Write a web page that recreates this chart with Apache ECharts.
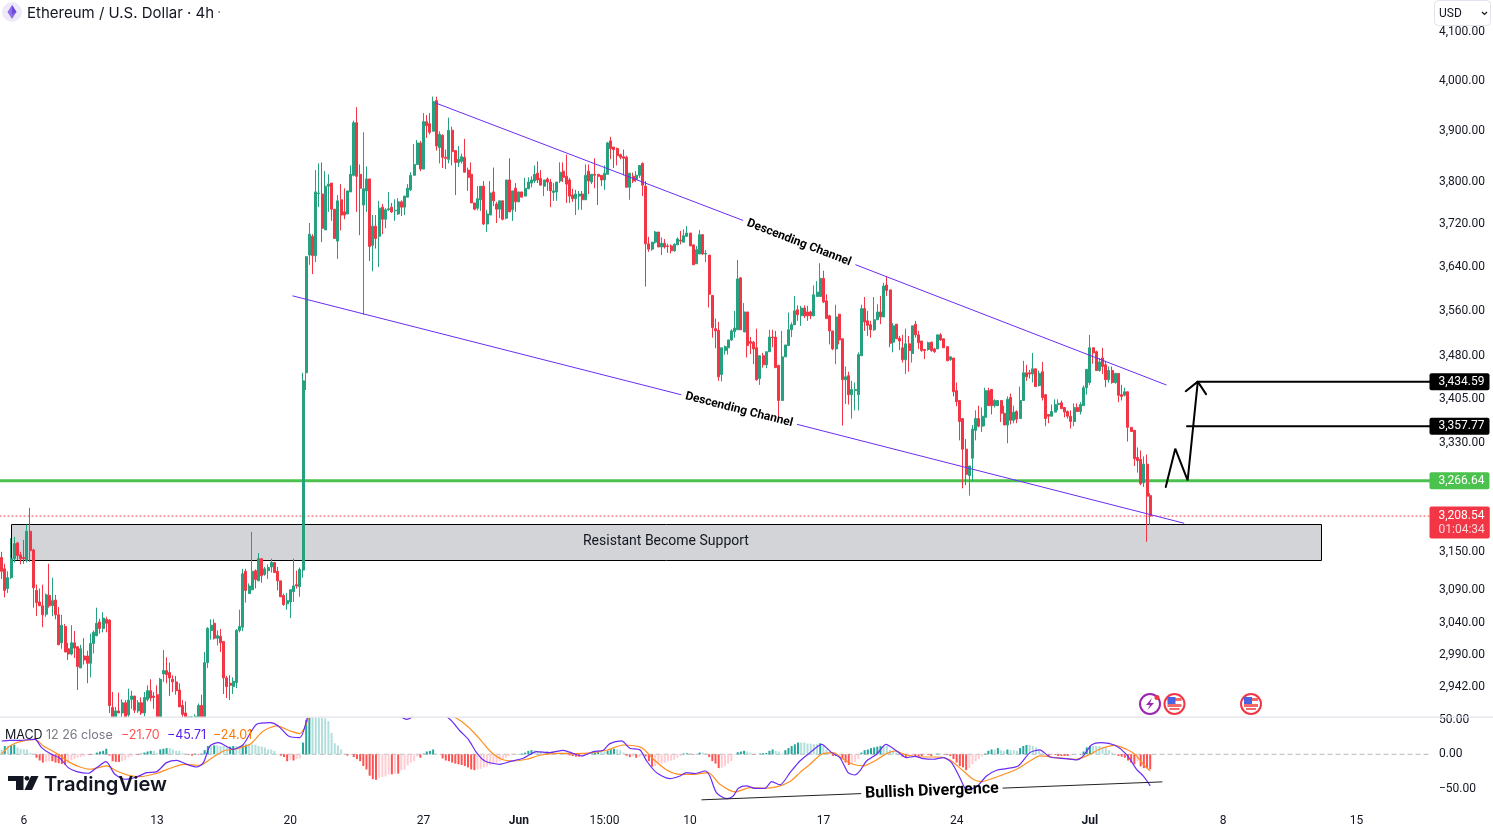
<!DOCTYPE html>
<html><head><meta charset="utf-8">
<style>html,body{margin:0;padding:0;background:#fff;overflow:hidden}#c{width:1493px;height:829px}</style>
<script src="https://cdn.jsdelivr.net/npm/echarts@6/dist/echarts.min.js"></script>
</head><body><div id="c"></div>
<script>
// open, close, low, high for each 4h bar, starting May 4 20:00
const ohlc = [
[3142,3120,3108,3151],[3124,3090,3079,3132],[3093,3110,3086,3120],[3110,3140,3108,3173],[3140,3164,3134,3175],[3165,3145,3138,3167],[3146,3140,3131,3151],[3142,3140,3132,3170],[3137,3184,3134,3195],[3184,3153,3135,3222],
[3154,3094,3063,3156],[3090,3071,3050,3099],[3072,3066,3066,3093],[3066,3052,3033,3099],[3053,3083,3049,3085],[3082,3066,3063,3132],[3066,3074,3050,3110],[3075,3052,3045,3083],[3052,3006,3006,3064],[3009,3036,3000,3052],
[3034,2995,2995,3038],[3000,2992,2983,3009],[2992,3009,2990,3036],[3009,3001,2986,3027],[3003,2973,2938,3004],[2971,3000,2971,3006],[2989,2983,2976,3016],[2989,2978,2948,2997],[2978,3008,2957,3023],[3008,3025,2993,3028],
[3020,3039,3019,3063],[3041,3031,3023,3046],[3031,3047,3025,3056],[3045,3039,3025,3049],[3044,2915,2904,3045],[2912,2890,2880,2935],[2889,2907,2885,2913],[2907,2904,2904,2934],[2904,2919,2890,2924],[2919,2897,2885,2923],
[2901,2923,2893,2940],[2924,2929,2910,2937],[2929,2908,2904,2929],[2907,2919,2904,2923],[2919,2904,2901,2927],[2904,2927,2899,2935],[2924,2937,2921,2945],[2937,2926,2921,2954],[2929,2927,2910,2935],[2931,2880,2875,2945],
[2880,2954,2875,2956],[2962,2967,2950,2998],[2967,2961,2948,2987],[2964,2956,2929,2979],[2954,2950,2935,2960],[2950,2937,2931,2959],[2938,2913,2913,2948],[2915,2902,2894,2923],[2904,2885,2880,2921],[2895,2892,2885,2897],
[2888,2875,2870,2892],[2891,2899,2885,2902],[2897,2915,2891,2918],[2915,2894,2891,2931],[2885,2979,2880,2995],[2979,3031,2971,3033],[3028,3036,3014,3045],[3039,3016,3014,3045],[3016,3020,3005,3028],[3019,3009,2995,3030],
[3011,2956,2932,3011],[2956,2943,2926,2959],[2948,2945,2923,2960],[2943,2951,2932,2957],[2949,3028,2941,3030],[3028,3034,3025,3060],[3033,3116,3027,3124],[3120,3090,3071,3124],[3085,3097,3085,3101],[3091,3120,3090,3183],
[3121,3107,3093,3123],[3105,3140,3105,3149],[3140,3113,3102,3140],[3115,3124,3113,3127],[3121,3126,3108,3131],[3127,3134,3118,3140],[3134,3118,3118,3134],[3120,3105,3090,3127],[3105,3080,3080,3105],[3082,3068,3066,3085],
[3069,3074,3060,3086],[3072,3091,3047,3091],[3088,3097,3072,3140],[3099,3097,3093,3121],[3096,3123,3080,3126],[3122,3436,3110,3450],[3450,3659,3420,3660],
[3662,3701,3644,3722],[3697,3661,3627,3701],[3661,3781,3649,3823],[3778,3779,3752,3836],[3777,3712,3686,3838],[3709,3792,3709,3821],[3792,3796,3743,3815],[3798,3748,3726,3798],[3748,3693,3693,3748],[3688,3764,3655,3775],
[3766,3737,3708,3796],[3743,3737,3729,3788],[3739,3783,3739,3783],[3781,3815,3781,3832],[3813,3916,3811,3920],[3916,3811,3743,3947],[3815,3788,3699,3834],[3756,3787,3553,3897],[3783,3806,3743,3830],[3806,3678,3651,3806],
[3680,3716,3632,3737],[3716,3693,3674,3737],[3697,3750,3640,3764],[3752,3729,3701,3758],[3729,3747,3712,3750],[3747,3749,3745,3781],[3752,3743,3741,3760],[3745,3746,3726,3767],[3739,3762,3737,3769],[3762,3752,3735,3765],
[3752,3773,3737,3773],[3771,3788,3771,3796],[3785,3813,3783,3819],[3813,3834,3813,3874],[3834,3876,3834,3882],[3876,3825,3821,3880],[3825,3918,3825,3935],[3918,3910,3886,3931],[3914,3897,3893,3935],[3899,3958,3899,3968],
[3960,3870,3861,3968],[3867,3893,3836,3899],[3891,3848,3827,3893],[3848,3846,3825,3863],[3844,3901,3836,3926],[3901,3859,3832,3908],[3861,3838,3775,3861],[3838,3844,3829,3870],[3840,3849,3836,3855],[3848,3819,3819,3884],
[3823,3809,3783,3828],[3815,3760,3760,3838],[3760,3748,3746,3760],[3750,3768,3746,3792],[3766,3792,3745,3792],[3792,3720,3718,3802],[3720,3739,3705,3747],[3737,3779,3737,3802],[3781,3764,3754,3828],[3758,3748,3722,3762],
[3748,3764,3731,3764],[3764,3729,3727,3764],[3731,3804,3729,3804],[3804,3743,3743,3846],[3747,3783,3726,3783],[3788,3762,3743,3798],[3762,3781,3762,3781],[3781,3771,3771,3781],[3773,3788,3773,3808],[3787,3800,3787,3809],
[3798,3804,3790,3811],[3802,3815,3798,3832],[3817,3804,3798,3840],[3807,3794,3794,3823],[3792,3804,3773,3804],[3806,3800,3783,3809],[3800,3783,3752,3806],[3780,3783,3764,3798],[3781,3800,3764,3800],[3802,3819,3798,3838],
[3821,3809,3800,3838],[3811,3796,3760,3853],[3804,3773,3760,3808],[3775,3768,3762,3787],[3768,3777,3737,3785],[3773,3777,3747,3783],[3777,3766,3747,3783],[3766,3813,3766,3834],[3821,3802,3777,3834],[3800,3815,3796,3815],
[3815,3813,3788,3846],[3815,3811,3756,3815],[3813,3804,3792,3813],[3804,3817,3785,3832],[3815,3876,3815,3878],[3880,3865,3844,3888],[3868,3863,3827,3868],[3865,3851,3832,3867],[3853,3848,3844,3855],[3849,3846,3813,3863],
[3848,3790,3790,3851],[3790,3817,3766,3817],
[3811,3802,3798,3818],[3805,3813,3800,3821],[3813,3832,3808,3832],[3836,3794,3773,3838],[3792,3683,3604,3802],[3683,3673,3668,3696],[3673,3686,3670,3686],[3686,3705,3683,3707],[3705,3677,3677,3705],[3677,3684,3662,3695],
[3684,3677,3674,3692],[3679,3678,3666,3683],[3679,3670,3665,3682],[3670,3682,3668,3684],[3681,3692,3681,3695],[3690,3688,3682,3707],[3686,3698,3686,3710],[3697,3703,3696,3716],[3703,3679,3679,3703],[3681,3644,3644,3681],
[3646,3672,3646,3679],[3664,3700,3664,3709],[3700,3664,3662,3701],[3664,3665,3649,3671],[3662,3590,3566,3662],[3588,3530,3512,3588],[3528,3524,3493,3546],[3525,3443,3436,3540],[3447,3494,3435,3494],[3489,3496,3482,3498],
[3494,3508,3482,3508],[3508,3524,3506,3527],[3523,3529,3512,3560],[3526,3618,3526,3653],[3620,3526,3526,3621],[3522,3558,3522,3574],[3558,3498,3477,3558],[3505,3502,3483,3513],[3504,3492,3465,3506],[3494,3438,3436,3528],
[3440,3480,3429,3480],[3480,3464,3459,3485],[3464,3487,3458,3487],[3487,3513,3487,3526],[3513,3512,3495,3526],[3513,3459,3459,3524],[3463,3402,3368,3464],[3402,3478,3402,3524],[3478,3499,3478,3499],[3498,3526,3498,3557],
[3526,3535,3513,3539],[3535,3560,3535,3587],[3562,3553,3542,3570],[3551,3565,3533,3569],[3565,3551,3547,3570],[3558,3551,3542,3569],[3558,3551,3545,3560],[3551,3589,3551,3606],[3586,3594,3586,3614],[3586,3619,3586,3647],
[3619,3576,3574,3633],[3578,3546,3546,3590],[3551,3524,3500,3553],[3524,3492,3490,3524],[3492,3549,3465,3571],[3554,3508,3500,3554],[3510,3438,3359,3510],[3438,3443,3396,3461],[3445,3412,3395,3452],[3412,3421,3371,3436],
[3419,3421,3385,3433],[3412,3482,3385,3486],[3480,3564,3480,3571],[3564,3540,3524,3585],[3542,3534,3515,3560],[3535,3526,3512,3542],[3526,3544,3524,3585],[3544,3558,3544,3572],[3558,3549,3536,3587],[3549,3605,3549,3611],
[3607,3597,3587,3623],[3598,3502,3495,3598],[3504,3533,3486,3538],[3536,3510,3510,3536],[3511,3506,3490,3515],[3494,3473,3468,3517],[3473,3501,3448,3528],[3501,3489,3452,3515],[3484,3533,3468,3533],[3536,3517,3512,3542],
[3517,3503,3492,3524],[3506,3489,3487,3506],[3491,3489,3474,3491],[3491,3503,3489,3505],[3504,3489,3487,3505],[3492,3487,3485,3494],[3492,3517,3492,3517],[3517,3508,3506,3520],[3510,3494,3494,3510],[3496,3471,3471,3496],
[3473,3478,3471,3479],[3476,3417,3409,3476],[3419,3400,3392,3433],[3402,3366,3334,3402],[3371,3319,3254,3371],[3319,3277,3259,3336],[3275,3291,3242,3291],[3304,3353,3266,3360],[3351,3371,3334,3385],[3371,3358,3356,3393],
[3358,3375,3348,3390],[3373,3419,3358,3424],[3419,3393,3393,3424],[3421,3393,3378,3422],[3393,3402,3390,3404],[3393,3402,3393,3402],[3402,3380,3365,3402],[3380,3360,3360,3393],[3360,3404,3329,3409],[3407,3368,3361,3414],
[3368,3382,3363,3393],[3383,3370,3363,3385],[3371,3402,3371,3426],[3402,3450,3402,3471],[3450,3443,3436,3464],[3450,3448,3440,3455],[3448,3457,3433,3485],[3457,3426,3426,3457],[3428,3449,3426,3454],[3452,3407,3402,3469],
[3412,3371,3358,3412],[3378,3375,3363,3378],[3375,3383,3375,3395],[3382,3395,3382,3404],[3395,3397,3385,3404],[3398,3388,3387,3402],[3390,3382,3373,3390],[3383,3375,3371,3385],[3375,3366,3354,3385],[3366,3390,3358,3397],
[3390,3383,3382,3397],[3383,3395,3378,3399],[3393,3424,3393,3428],[3424,3456,3412,3456],[3433,3494,3429,3517],[3494,3485,3466,3494],[3487,3454,3454,3489],[3454,3469,3452,3476],[3476,3461,3448,3494],[3464,3438,3425,3471],
[3438,3454,3433,3461],[3454,3433,3431,3461],[3433,3449,3431,3450],[3449,3411,3399,3449],[3412,3409,3402,3429],[3411,3417,3409,3424],[3417,3356,3332,3417],[3356,3349,3349,3356],[3351,3303,3291,3351],[3305,3300,3280,3322],
[3302,3262,3259,3317],[3263,3294,3256,3307],[3294,3241,3167,3310],[3242,3208.54,3194,3246]
];
const histValues = [
7,12,12,13,14,10,8,7,7,2,0.5,-5,-9,-12,-11,-10,-10,-12,-13,-14,-15,-13,-9,-7,-5,-4,-3,-1,-1,0.5,2.5,4,5,8,-2,-10,-11,-11,-10,-8,-5,-3,-1,-1,1,2.5,4,5,5,2,7,8,9,9,7,5,5,2,1,-1,-2,1,-1,1,6,12,12,13,13,12,12,10,11,12,12,12,13,14,14,14,14,12,11,10,7,7,5,1,-2,-4,-10,-8,-9,-7,-6,17,50,70,70,65,60,55,52,48,31,16,13,7,0.5,-2,-1,-4,-7,-10,-17,-22,-31,-36,-37,-34,-33,-32,-29,-29,-28,-28,
-23,-22,-16,-12,-10,-3,-5,1,4,5,7,1.5,0,-6,-9,-10,-12,-13.5,-14.5,-15.5,-17,-19,-22,-23,-22,-21,-19,-17.5,-15.5,-13.5,-12.5,-10.5,-7,-5,-2.5,-0.5,0,0.5,1,2.5,5,6,6,4,4,2.5,4,2.5,2.5,1.5,1.5,1.5,-0.5,-1.5,-2.5,-3.5,-3.5,-3,-1.5,-0.5,1.5,2.5,4,4,4,5,7,8,7,6,2.5,-2,-4,-2.5,-5,-4,-1.5,-3,-10,-18,-17,-14.5,-13.5,-12,-10,-9,-8,-5,-2.5,1,1.5,1.5,-1,-0.5,2.5,2.5,1.5,-4,-10,-13.5,-20,-19,-17,-13.5,-10,-1,3,4,5,4,2.5,-0.5,0,1,1.5,2,5,7,5,4,1.5,6,9,12,14.5,17,
17,17,15.5,15.5,14.5,14.5,16,12,7,2.5,-2.5,-2.5,-0.5,-7,-12,-15.5,-12,-11,-7,2.5,6,7,9,10,11,12,12,12,6,4,2.5,0,-3.5,-5,-4,-2.5,-2.5,-2.5,-2.5,-1,-1,-2.5,0,1,1,-0.5,-1,-2.5,-7,-12,-17,-19,-23,-20,-14.5,-10,-7,-3,1,5,7,7,9,6,5,7,6,6,5,9,12,13.5,13.5,12,10,6,2.5,0,-2.5,0,-1,-2.5,-2.5,-2.5,-2.5,-1,0,0,0.5,4,10,12,12,12,12,10.5,10,6,2.5,0,-2.5,-3.5,-5,-9,-12,-14.5,-10,-17.5,-20,-20,-21.7
];
// bar index, value
const macdLine = [[0,19.3],[2.6,20.3],[5.8,20.3],[10.5,21.7],[12.6,9.7],[15.3,1],[18.4,-5.8],[21,-19.3],[23.7,-25.1],[27.3,-27.5],[30,-19.3],[32.9,-10.6],[35.7,-29],[38.9,-36.2],[42.6,-32.9],[45.7,-26.6],[48.9,-25.1],[52,-12.1],[55.2,-8.7],[57.8,-13.5],[61.5,-18.4],[63.6,-12.1],[65.7,12.1],[68.3,16.9],[73,7.2],[76.2,14.5],[80.4,43.5],[84.6,45.9],[87.2,41.1],[90.4,26.6],[94,24.2],[96.1,48.3],[98,85],[105,120],[115,105],[122,70],[127.7,50.7],[135,70],[141.3,50.7],[144.5,33.8],[147.1,21.7],[149.7,2.4],[152.3,-9.7],[157.1,-14.5],[160.2,-10.6],[164.4,-5.8],[168.6,3.9],[172.8,2.4],[177,5.8],[180.2,1],[182.8,-2.4],[186.5,3.9],[189.6,5.8],[191.7,15.5],[195.4,19.3],[198,8.7],[201.2,6.3],[203.3,-9.7],[206.4,-26.6],[210.6,-35.3],[213.8,-31.4],[215.9,-26.6],[218.5,-28],[221.7,-24.2],[223.2,-31.4],[225.3,-55.6],[228.5,-64.3],[230.6,-60.4],[232.2,-49.3],[234.8,-45.9],[237.4,-49.3],[240.6,-49.3],[242.7,-39.6],[245.3,-44.4],[248.5,-26.6],[251.6,-9.7],[254.8,2.4],[258.4,14.5],[261.6,2.4],[264.2,-4.8],[266.8,-26.6],[268.9,-30],[270.5,-24.2],[272.6,-9.7],[275.8,0],[278.7,14.5],[282.1,4.8],[285.2,-4.8],[287.8,-2.9],[290.5,-6.3],[293.6,-7.2],[296.8,-4.8],[299.4,-12.1],[302,-33.8],[304.1,-50.7],[307.3,-47.3],[310.4,-31.4],[313.6,-23.2],[316.7,-20.8],[320.4,-16.9],[324.1,2.4],[327.2,6.3],[330.4,-3.9],[335.6,-6.3],[338.8,-8.2],[340.9,-2.4],[343.5,13.5],[346.7,16.9],[350.9,13],[354.5,0],[357.7,-21.7],[359.8,-31.4],[362,-45.71]];
const signalLine = [[0,1],[2.6,12.1],[5.8,18.4],[10.5,21.7],[13.2,12.1],[17.4,1],[21.6,-12.1],[24.7,-18.4],[27.9,-21.7],[33.1,-16.9],[36.3,-24.2],[40,-30.4],[43.6,-32.4],[48.9,-27.5],[53.1,-20.3],[57.3,-14.5],[62.5,-15.9],[65.7,-7.2],[69.9,4.8],[74.1,8.2],[78.3,14.5],[82.5,33.8],[86.7,41.1],[90.9,33.8],[94,30],[95.6,39.6],[96.7,52.2],[100,70],[110,90],[125,85],[135,70],[143.4,52.2],[147.1,39.6],[150.8,21.7],[153.9,4.8],[157.6,-7.2],[161.3,-9.7],[165.5,-7.2],[169.7,-1.4],[174.9,1.4],[181.2,1],[186.5,2.4],[190.7,5.8],[195.9,13.5],[201.7,9.7],[205.4,-7.2],[209.6,-22.7],[213.8,-29],[218,-29],[222.7,-26.6],[226.4,-43.5],[231.1,-54.6],[235.9,-48.3],[240.1,-49.3],[244.3,-47.3],[248.5,-39.6],[251.6,-26.6],[254.8,-14.5],[258.4,0],[262.1,2.4],[265.3,-7.2],[268.4,-14.5],[271.6,-16.9],[275.2,-9.7],[278.9,1],[281.5,4.8],[285.2,-1],[290.5,-3.9],[295.7,-3.9],[298.9,-8.2],[303.1,-24.2],[306.2,-36.2],[308.8,-39.6],[313.6,-32.9],[319.9,-21.7],[324.1,-9.7],[327.2,-2.4],[332.5,-4.8],[338.8,-7.2],[343,0],[346.7,8.7],[350.9,13],[354.5,7.2],[357.2,0],[359.8,-14.5],[362,-24.01]];

const priceTicks = [4100,4000,3900,3800,3720,3640,3560,3480,3405,3330,3270,3150,3090,3040,2990,2942];
const macdTicks = [50,0,-50];
const timeTickBars = [7,49,91,133,163,190,217,259,301,343,385,427];
const timeTickLabels = ['6','13','20','27','Jun','15:00','10','17','24','Jul','8','15'];

// drawings: bar index, price
const channelUpper = [[[136.9,3955],[233.6,3727]],[[269.2,3644],[367,3429]]];
const channelLower = [[[91.8,3587],[214.1,3412]],[[250.8,3361],[372.6,3197]]];
const channelLabels = [[251.3,3685,-21.1],[232.4,3386,-14.3]];
const arrowPath = [[366.9,3256],[369.9,3320],[373.8,3267],[377,3434.59]];
const arrowBarbs = [[373.2,3418],[377,3434.59],[379.6,3413]];
const level1 = [[377,3434.59],[450.5,3434.59]];
const level2 = [[373.6,3357.77],[450.5,3357.77]];
const supportLevel = 3266.64;
const lastPrice = 3208.54;
const zone = [2.97,415.8,3137.5,3196];
// bar index, macd value
const divergence = [[[220.7,-66],[270.8,-57]],[[315.6,-49],[365.7,-40]]];
const divergenceLabel = [293.2,-53.6,2.2];
const paneFloor = 2898;

const UP='#26a17f',DOWN='#f23645',PURPLE='#6a2cf5',BLACK='#000',FONT='Roboto';
const fmt=v=>{const n=Math.abs(v).toLocaleString('en-US',{minimumFractionDigits:2,maximumFractionDigits:2});return (v<0?'\u2212':'')+n;};
const seg=(data,color,width,x,z,type)=>({type:'line',xAxisIndex:x,yAxisIndex:x,data,symbol:'none',silent:true,z:z||5,animation:false,
  lineStyle:{color,width,type:type||'solid',cap:'round'}});
const histData=histValues.map((v,i)=>{const p=i?histValues[i-1]:v;
  const c=v>=0?(p<v?'#26a69a':'#b2dfdb'):(p<v?'#ffcdd2':'#ff5252');
  return {value:[i,v],itemStyle:{color:c}};});
const hiddenMark={color:'rgba(0,0,0,0)',opacity:1};
const tag=(price,text,bg,extra)=>({value:[450.5,price],label:Object.assign({show:true,position:'right',distance:0,offset:[-2,0],formatter:text,backgroundColor:bg,color:'#fff',fontFamily:FONT,fontSize:12,lineHeight:13,padding:[2,5,2,9],borderRadius:2,align:'left'},extra||{})});

const option={
 animation:false,
 title:{text:'Ethereum / U.S. Dollar \u00b7 4h',left:27,top:4,padding:0,textStyle:{fontFamily:'Inter',fontSize:15,fontWeight:400,color:'#131722',lineHeight:18}},
 grid:[{left:0,top:1,width:1431,height:717},{left:0,top:718,width:1431,height:89}],
 xAxis:[
  {type:'value',gridIndex:0,min:-0.5,max:450.5,show:false,splitLine:{show:false}},
  {type:'value',gridIndex:1,min:-0.5,max:450.5,splitLine:{show:false},axisLine:{show:false},axisTick:{show:false},
   axisLabel:{customValues:timeTickBars,margin:8,color:'#131722',fontFamily:FONT,fontSize:12,
    formatter:v=>{const l=timeTickLabels[timeTickBars.indexOf(v)];return /J/.test(l)?'{b|'+l+'}':l;},
    rich:{b:{fontWeight:700,fontFamily:FONT,fontSize:12,color:'#131722'}}}}
 ],
 yAxis:[
  {type:'log',gridIndex:0,position:'right',min:2896.6,max:4164.9,splitLine:{show:false},axisLine:{show:false},axisTick:{show:false},
   axisLabel:{customValues:priceTicks,margin:8,color:'#131722',fontFamily:FONT,fontSize:12,formatter:fmt,showMinLabel:true,showMaxLabel:true}},
  {type:'value',gridIndex:1,position:'right',min:-76.4,max:52.6,splitLine:{show:false},axisLine:{show:false},axisTick:{show:false},
   axisLabel:{customValues:macdTicks,margin:8,color:'#131722',fontFamily:FONT,fontSize:12,formatter:fmt}}
 ],
 series:[
  {type:'custom',xAxisIndex:0,yAxisIndex:0,z:1,silent:true,data:[zone],encode:{x:[0,1],y:[2,3]},
   renderItem:(p,api)=>{const a=api.coord([api.value(0),api.value(3)]),b=api.coord([api.value(1),api.value(2)]);
    return {type:'group',children:[
     {type:'rect',shape:{x:Math.round(a[0])+.5,y:Math.round(a[1])+.5,width:Math.round(b[0]-a[0]),height:Math.round(b[1]-a[1])},style:{fill:'#d3d4d7',stroke:'#000',lineWidth:1}},
     {type:'text',style:{x:(a[0]+b[0])/2,y:541,text:'Resistant Become Support',fill:'#131722',font:'14px Roboto',align:'center',verticalAlign:'middle'}}]};}},
  seg([[-0.5,lastPrice],[450.5,lastPrice]],'#f23645',1,0,1,[1,3]),
  seg([[-0.5,supportLevel],[450.5,supportLevel]],'#4cc24e',3,0,1),
  {type:'candlestick',xAxisIndex:0,yAxisIndex:0,z:3,barWidth:2.5,silent:true,
   data:ohlc.map((r,i)=>[i,...r.map(v=>Math.max(v,paneFloor))]),encode:{x:0,y:[1,2,3,4]},
   itemStyle:{color:UP,color0:DOWN,borderColor:UP,borderColor0:DOWN,borderWidth:1}},
  ...channelUpper.map(d=>seg(d,PURPLE,1,0)),
  ...channelLower.map(d=>seg(d,PURPLE,1,0)),
  seg(arrowPath,BLACK,2,0),seg(arrowBarbs,BLACK,2,0),seg(level1,BLACK,2,0),seg(level2,BLACK,2,0),
  {type:'scatter',xAxisIndex:0,yAxisIndex:0,z:6,silent:true,symbolSize:1,itemStyle:hiddenMark,
   data:channelLabels.map(c=>({value:[c[0],c[1]],label:{show:true,position:'inside',formatter:'Descending Channel',rotate:c[2],color:'#000',fontFamily:FONT,fontWeight:700,fontSize:12}}))},
  {type:'scatter',xAxisIndex:0,yAxisIndex:0,z:20,silent:true,clip:false,symbolSize:1,itemStyle:hiddenMark,
   data:[tag(3434.59,'3,434.59','#000'),tag(3357.77,'3,357.77','#000'),tag(supportLevel,'3,266.64','#4cc24e'),
    tag(lastPrice,'{a|3,208.54}\n{b|01:04:34}','#f23645',{offset:[-2,6.5],rich:{a:{color:'#fff',fontFamily:FONT,fontSize:12,lineHeight:14},b:{color:'#ffd5d9',fontFamily:FONT,fontSize:12,lineHeight:14}}})]},
  seg([[-0.5,0],[450.5,0]],'#b2b5be',1,1,1,[4,4]),
  {type:'bar',xAxisIndex:1,yAxisIndex:1,z:2,barWidth:2,silent:true,data:histData},
  {type:'line',xAxisIndex:1,yAxisIndex:1,z:4,data:signalLine,symbol:'none',smooth:0.25,silent:true,lineStyle:{color:'#ff8f1f',width:1.2}},
  {type:'line',xAxisIndex:1,yAxisIndex:1,z:5,data:macdLine,symbol:'none',smooth:0.25,silent:true,lineStyle:{color:PURPLE,width:1.2}},
  ...divergence.map(d=>seg(d,'#222',1,1,6)),
  {type:'scatter',xAxisIndex:1,yAxisIndex:1,z:7,silent:true,symbolSize:1,itemStyle:hiddenMark,
   data:[{value:[divergenceLabel[0],divergenceLabel[1]],label:{show:true,position:'inside',formatter:'Bullish Divergence',rotate:divergenceLabel[2],color:'#000',fontFamily:FONT,fontWeight:700,fontSize:16}}]}
 ],
 graphic:{elements:[
  {type:'rect',z:50,shape:{x:0,y:716.5,width:1493,height:1.2},style:{fill:'#e0e3eb'}},
  // header
  {type:'circle',z:50,shape:{cx:12,cy:12,r:10},style:{fill:'#eeeaf8'}},
  {type:'polygon',z:51,shape:{points:[[12,5],[16.5,12],[12,19],[7.5,12]]},style:{fill:'#8f6fe8'}},
  {type:'polygon',z:52,shape:{points:[[12,5],[16.5,12],[12,14.5]]},style:{fill:'#6a49d8'}},
  {type:'text',z:50,style:{x:217,y:5,text:'\u00b7',fill:'#9598a1',font:'15px Inter'}},
  // currency selector
  {type:'rect',z:60,shape:{x:1434.5,y:0.5,width:56,height:25,r:4},style:{fill:'#fff',stroke:'#e0e3eb',lineWidth:1}},
  {type:'text',z:61,style:{x:1439,y:8,text:'USD',fill:'#131722',font:'12px Roboto'}},
  {type:'polyline',z:61,shape:{points:[[1482,12],[1484.5,14.5],[1487,12]]},style:{stroke:'#131722',lineWidth:1.2,fill:'none'}},
  // MACD legend
  {type:'text',z:50,style:{x:5,y:728.5,text:'MACD',fill:'#131722',font:'12.5px Inter'}},
  {type:'text',z:50,style:{x:46,y:728.5,text:'12 26 close',fill:'#787b86',font:'12.5px Inter'}},
  {type:'text',z:50,style:{x:121,y:728.5,text:'\u221221.70',fill:'#ff5252',font:'12.5px Inter'}},
  {type:'text',z:50,style:{x:167,y:728.5,text:'\u221245.71',fill:'#5a1ef0',font:'12.5px Inter'}},
  {type:'text',z:50,style:{x:213,y:728.5,text:'\u221224.01',fill:'#ff7a00',font:'12.5px Inter'}},
  // TradingView mark
  {type:'polygon',z:50,shape:{points:[[8,776],[23.5,776],[23.5,790],[16,790],[16,781],[8,781]]},style:{fill:'#131722'}},
  {type:'circle',z:50,shape:{cx:27,cy:778.3,r:2.4},style:{fill:'#131722'}},
  {type:'polygon',z:50,shape:{points:[[31,776],[38.5,776],[32,790],[24.5,790]]},style:{fill:'#131722'}},
  {type:'text',z:50,style:{x:44,y:775,text:'TradingView',fill:'#131722',font:'600 20.2px Inter'}},
  // events
  {type:'circle',z:50,shape:{cx:1150,cy:704,r:10},style:{fill:'#fff',stroke:'#9c27b0',lineWidth:2}},
  {type:'polygon',z:51,shape:{points:[[1152,698],[1146,705],[1150,705],[1147.5,710],[1154,703],[1150,703]]},style:{fill:'#9c27b0'}},
  {type:'circle',z:52,shape:{cx:1157,cy:697.5,r:2.5},style:{fill:'#f23645'}},
  ...[1174.5,1251].flatMap(cx=>[
   {type:'circle',z:50,shape:{cx,cy:704,r:10},style:{fill:'#fff',stroke:'#f23645',lineWidth:2}},
   {type:'rect',z:51,shape:{x:cx-7,y:698,width:14,height:3},style:{fill:'#f26a6a'}},
   {type:'rect',z:51,shape:{x:cx-7,y:704,width:14,height:3},style:{fill:'#f26a6a'}},
   {type:'rect',z:52,shape:{x:cx-7,y:697,width:8,height:7},style:{fill:'#4a63e0'}},
   {type:'rect',z:51,shape:{x:cx-5,y:708,width:10,height:2},style:{fill:'#f26a6a'}}])
 ]}
};
echarts.init(document.getElementById('c'),null,{renderer:'canvas'}).setOption(option);
</script></body></html>
